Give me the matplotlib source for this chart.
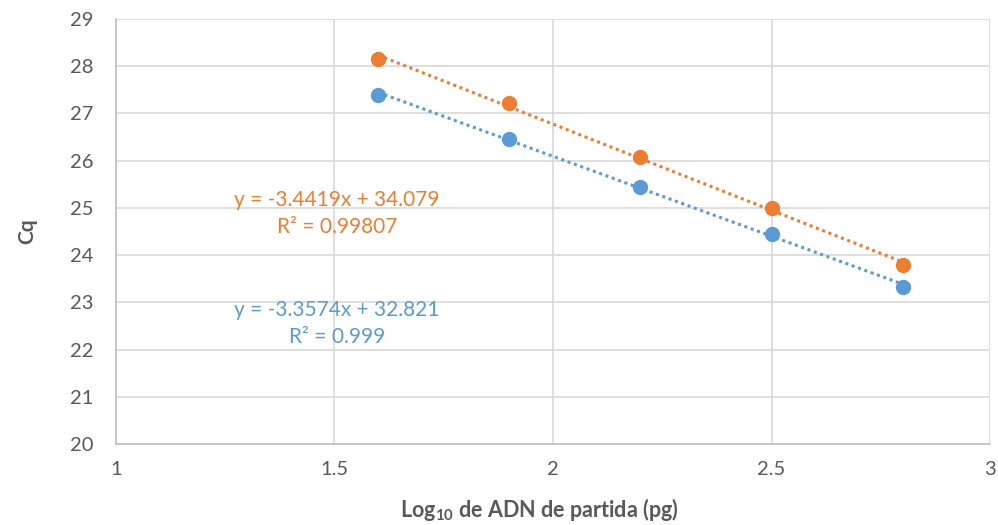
import numpy as np
import matplotlib.pyplot as plt

# datos
log_adn = [1.6, 1.9, 2.2, 2.5, 2.8]
cq_naranja = [28.15, 27.22, 26.07, 24.99, 23.79]
cq_azul = [27.40, 26.46, 25.44, 24.45, 23.33]
eq_naranja = ['y = -3.4419x + 34.079', 'R² = 0.99807']
eq_azul = ['y = -3.3574x + 32.821', 'R² = 0.999']

naranja = '#ED7D31'
azul = '#5B9BD5'
gris = '#595959'

plt.rcParams['font.family'] = ['Lato', 'DejaVu Sans']
plt.rcParams['mathtext.fontset'] = 'custom'
plt.rcParams['mathtext.rm'] = 'Lato:bold'
plt.rcParams['mathtext.default'] = 'rm'

fig = plt.figure(figsize=(9.98, 5.25), dpi=100)
ax = fig.add_axes([0.1162, 0.1543, 0.8758, 0.8095])

x = np.array(log_adn)
for cq, color in [(cq_azul, azul), (cq_naranja, naranja)]:
    # linea de tendencia (regresion lineal)
    a, b = np.polyfit(x, cq, 1)
    ax.plot(x, a * x + b, linestyle=(0, (1, 1.2)), color=color, linewidth=2.2, zorder=2)
    ax.plot(x, cq, 'o', color=color, markersize=10, zorder=3)

ax.text(1.506, 25.17, eq_naranja[0], color=naranja, fontsize=15, ha='center', va='center')
ax.text(1.506, 24.6, eq_naranja[1], color=naranja, fontsize=15, ha='center', va='center')
ax.text(1.506, 22.83, eq_azul[0], color=azul, fontsize=15, ha='center', va='center')
ax.text(1.506, 22.27, eq_azul[1], color=azul, fontsize=15, ha='center', va='center')

ax.set_xlim(1, 3)
ax.set_ylim(20, 29)
ax.set_xticks([1, 1.5, 2, 2.5, 3])
ax.set_xticklabels(['1', '1.5', '2', '2.5', '3'])
ax.set_yticks(range(20, 30))
ax.grid(True, color='#D9D9D9', linewidth=1.2)
ax.set_axisbelow(True)
for s in ['top', 'right']:
    ax.spines[s].set_visible(False)
for s in ['left', 'bottom']:
    ax.spines[s].set_color('#BFBFBF')
    ax.spines[s].set_linewidth(1.2)
ax.tick_params(length=0, labelsize=14.5, colors=gris)
ax.tick_params(axis='y', pad=16)
ax.tick_params(axis='x', pad=12)

ax.set_xlabel('Log$_{10}$ de ADN de partida (pg)', fontsize=15.5, fontweight='bold', color=gris)
ax.xaxis.set_label_coords(0.484, -0.122)
ax.set_ylabel('Cq', fontsize=15, fontweight='bold', color=gris, labelpad=24)

fig.savefig('out.png', dpi=100)
